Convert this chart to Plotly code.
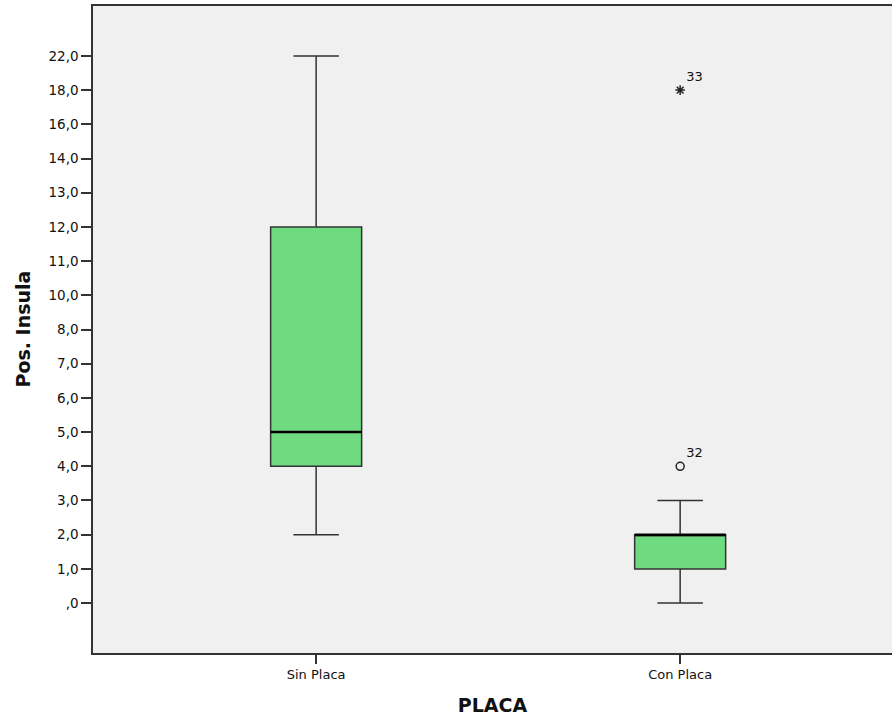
import plotly.graph_objects as go

# Ordinal y-axis levels (distinct observed values), as shown on the axis
y_levels = [0, 1, 2, 3, 4, 5, 6, 7, 8, 10, 11, 12, 13, 14, 16, 18, 22]
y_labels = [",0", "1,0", "2,0", "3,0", "4,0", "5,0", "6,0", "7,0", "8,0",
            "10,0", "11,0", "12,0", "13,0", "14,0", "16,0", "18,0", "22,0"]

groups = ["Sin Placa", "Con Placa"]
lower = [2, 0]
q1 = [4, 1]
median = [5, 2]
q3 = [12, 2]
upper = [22, 3]

# outliers: (group index, value, case id, kind)
out_group = [1, 1]
out_value = [4, 18]
out_case = ["32", "33"]
out_symbol = ["circle-open", "asterisk-open"]

def pos(v):
    return y_levels.index(v)

box_w = 0.25
fill = "#6EDB80"
line_c = "#333333"

fig = go.Figure()
for i, g in enumerate(groups):
    fig.add_trace(go.Box(
        x=[i], q1=[pos(q1[i])], median=[pos(median[i])], q3=[pos(q3[i])],
        lowerfence=[pos(lower[i])], upperfence=[pos(upper[i])],
        width=box_w, whiskerwidth=0.5, fillcolor=fill,
        line=dict(color=line_c, width=1.5), boxpoints=False,
        showlegend=False, hoverinfo="skip"))
    fig.add_trace(go.Scatter(
        x=[i - box_w / 2, i + box_w / 2], y=[pos(median[i])] * 2,
        mode="lines", line=dict(color="black", width=2.5),
        showlegend=False, hoverinfo="skip"))

for g, v, c, s in zip(out_group, out_value, out_case, out_symbol):
    fig.add_trace(go.Scatter(
        x=[g], y=[pos(v)], mode="markers+text",
        marker=dict(symbol=s, size=8, color="#222", line=dict(width=1.5, color="#222")),
        text=[c], textposition="top right",
        textfont=dict(family="DejaVu Sans", size=13, color="#111"),
        showlegend=False, hoverinfo="skip"))

fig.update_layout(
    width=892, height=720,
    margin=dict(l=93, r=0, t=6, b=67),
    paper_bgcolor="white", plot_bgcolor="#F0F0F0",
    font=dict(family="DejaVu Sans", color="#111"),
    xaxis=dict(
        range=[-0.613, 1.582], tickvals=[0, 1], ticktext=groups,
        showgrid=False, zeroline=False, showline=True, mirror=True,
        linecolor="#333", linewidth=1.5,
        ticks="outside", ticklen=9, tickcolor="#333", tickwidth=1.5,
        tickfont=dict(size=13),
        title=dict(text="<b>PLACA</b>", font=dict(size=19), standoff=17)),
    yaxis=dict(
        range=[-1.46, 17.46], tickvals=list(range(len(y_levels))), ticktext=y_labels,
        showgrid=False, zeroline=False, showline=True,
        linecolor="#333", linewidth=1.5,
        ticks="outside", ticklen=10, tickcolor="#333", tickwidth=1.5,
        tickfont=dict(size=13.5)),
    annotations=[dict(
        text="<b>Pos. Insula</b>", textangle=-90, font=dict(size=19, color="#111"),
        x=0, xref="paper", xanchor="center", xshift=-71,
        y=0.5, yref="paper", yanchor="middle", showarrow=False)],
)

fig.write_html("out.html", config={"displayModeBar": False},
               post_script="document.body.style.margin='0';document.body.style.padding='0';")
